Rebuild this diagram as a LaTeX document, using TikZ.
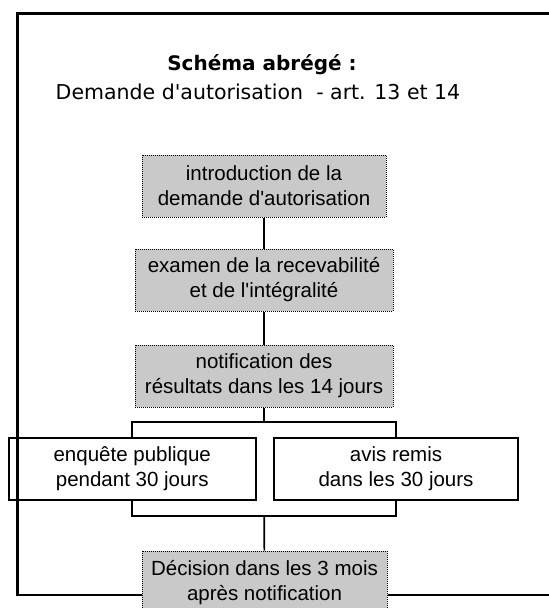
\documentclass[tikz,border=0pt]{standalone}
\usepackage{fontspec}
\setmainfont{Liberation Sans}
\newfontfamily\arialf{Liberation Sans}
\newfontfamily\dejavu{DejaVu Sans}
\tikzset{
  graybox/.style={draw=black, densely dotted, line width=1pt, fill=gray!42, align=center,
    inner sep=0pt, minimum height=62pt, font=\arialf\fontsize{20.5}{25}\selectfont},
  whitebox/.style={draw=black, solid, line width=2pt, fill=white, align=center,
    inner sep=0pt, minimum height=62pt, font=\arialf\fontsize{20.5}{25}\selectfont},
  bracketbox/.style={draw=black, line width=2.2pt, inner sep=0pt, minimum width=264pt, minimum height=94pt},
  link/.style={draw=black, line width=1.7pt},
  framel/.style={draw=black, line width=2.3pt}
}
\begin{document}
\begin{tikzpicture}[x=1pt,y=-1pt]
\useasboundingbox (0,0) rectangle (549,608);
\clip (0,0) rectangle (549,608);
\fill[white] (0,0) rectangle (549,608);

\node (title) at (262,65) {\dejavu\bfseries\fontsize{20}{24}\selectfont Schéma abrégé :};
\node (sub) at (258,92) {\dejavu\fontsize{20.5}{25}\selectfont Demande d'autorisation\ \ - art. 13 et 14};

\node[graybox, minimum width=244pt] (b1) at (264,186) {introduction de la\\demande d'autorisation};
\node[graybox, minimum width=258pt] (b2) at (264,280) {examen de la recevabilité\\et de l'intégralité};
\node[graybox, minimum width=258pt] (b3) at (264,376) {notification des\\résultats dans les 14 jours};

\node[bracketbox] (br) at (264,469) {};
\node[whitebox, minimum width=247.5pt] (enq) at (132.25,469) {enquête publique\\pendant 30 jours};
\node[whitebox, minimum width=244pt] (avis) at (396,469) {avis remis\\dans les 30 jours};

\node[graybox, minimum width=245pt, minimum height=64pt] (dec) at (264.5,583) {Décision dans les 3 mois\\après notification};

\draw[link] (b1) -- (b2);
\draw[link] (b2) -- (b3);
\draw[link] (b3) -- (br);
\draw[link] (br) -- (dec);

\coordinate (fbl) at (17.5,595);
\coordinate (ftl) at (17.5,13.5);
\coordinate (ftr) at (560,13.5);
\coordinate (fbr) at (560,595);
\draw[framel] (dec.west |- fbl) -- (fbl) -- (ftl) -- (ftr);
\draw[framel] (dec.east |- fbr) -- (fbr);
\end{tikzpicture}
\end{document}
